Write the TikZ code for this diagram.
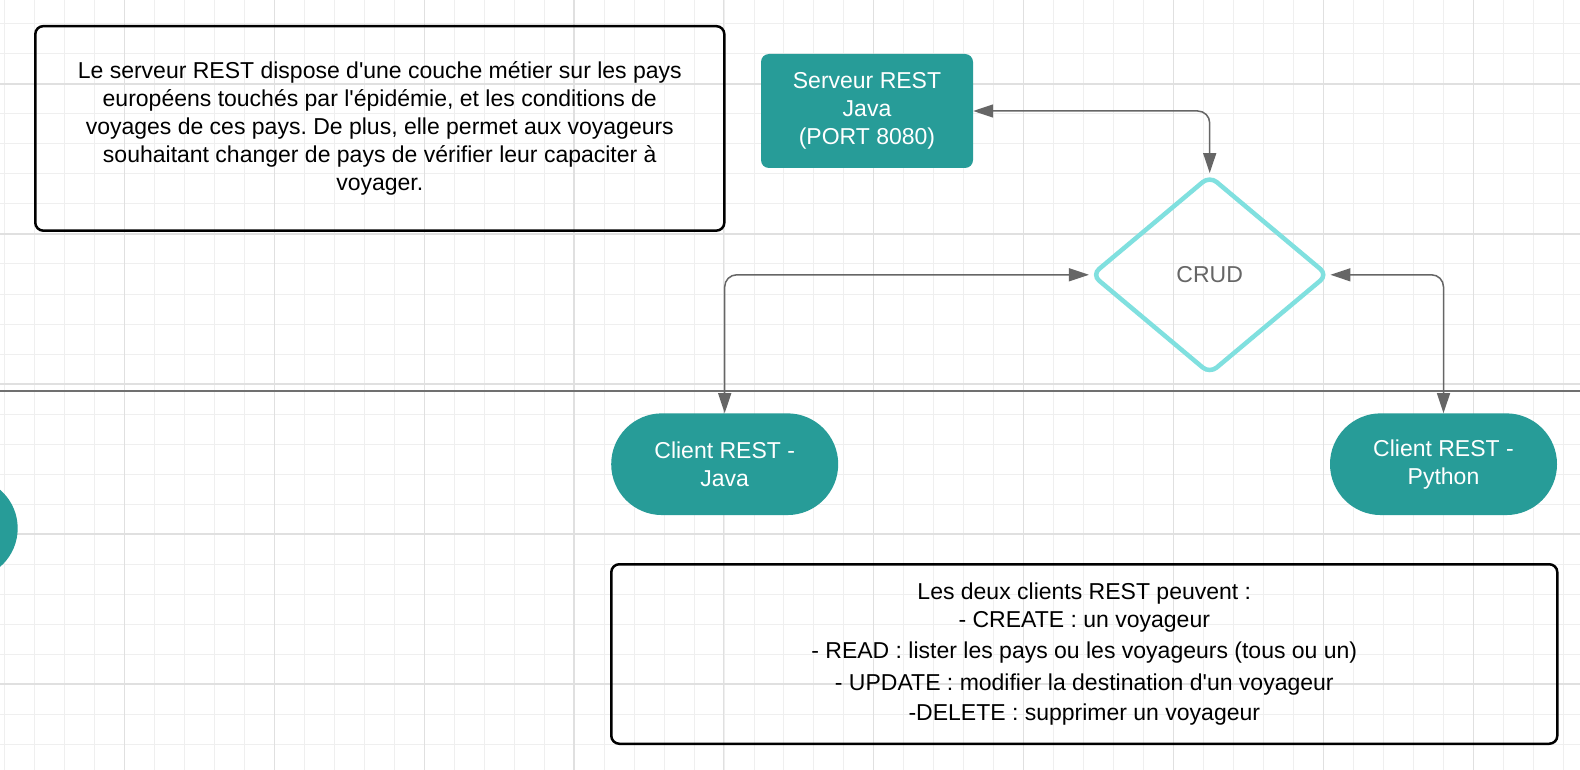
\documentclass[tikz,border=0pt]{standalone}
\usepackage{fontspec}
\newfontfamily\libsans{Liberation Sans}
\usetikzlibrary{arrows.meta,shapes.geometric}
\definecolor{tealbox}{HTML}{279C98}
\definecolor{crudline}{HTML}{80E0DF}
\definecolor{conngray}{HTML}{666666}
\definecolor{gridlight}{HTML}{EFEFEF}
\definecolor{griddark}{HTML}{E0E0E0}
\definecolor{sepgray}{HTML}{707070}
\tikzset{
  gridl/.style={draw=gridlight, line width=1pt},
  gridd/.style={draw=griddark, line width=1.1pt},
  txt/.style={font=\libsans\frenchspacing\fontsize{23}{28}\selectfont, align=center},
  notebox/.style={txt, draw=black, line width=2.5pt, rounded corners=8pt, inner sep=0pt, text=black},
  tealrect/.style={txt, fill=tealbox, text=white, rounded corners=8pt, inner sep=0pt,
    minimum width=212pt, minimum height=114pt},
  stadium/.style={txt, fill=tealbox, text=white, rounded corners=50.8pt, inner sep=0pt,
    minimum width=227pt, minimum height=101.7pt},
  decision/.style={txt, diamond, draw=crudline, line width=4.5pt, rounded corners=9pt,
    text=conngray, inner sep=0pt, minimum width=237pt, minimum height=199pt},
  conn/.style={draw=conngray, line width=1.5pt, rounded corners=12pt,
    {Triangle[length=20pt,width=13pt]}-{Triangle[length=20pt,width=13pt]}},
  sepline/.style={draw=sepgray, line width=1.6pt}
}
\begin{document}
\begin{tikzpicture}[x=1pt,y=-1pt]
\useasboundingbox (0,0) rectangle (1580,770);
\fill[white] (0,0) rectangle (1580,770);
% grid
\foreach \i in {0,...,52} {\draw[gridl] ({4.5+29.98*\i},0) -- ++(0,770);}
\foreach \j in {0,...,25} {\draw[gridl] (0,{24+30*\j}) -- ++(1580,0);}
\foreach \k in {0,...,9} {\draw[gridd] ({124.3+149.9*\k},0) -- ++(0,770);}
\foreach \k in {0,...,4} {\draw[gridd] (0,{84+150*\k}) -- ++(1580,0);}

% separator
\coordinate (sepL) at (0,391);
\coordinate (sepR) at (1580,391);
\draw[sepline] (sepL) -- (sepR);

% partial shape at left edge
\begin{scope}
\clip (0,0) rectangle (1580,770);
\node[stadium] (partial) at (-95.8,528.3) {};
\end{scope}

% nodes
\node[notebox, minimum width=689pt, minimum height=204.5pt] (intro) at (379.8,128.4)
  {Le serveur REST dispose d'une couche métier sur les pays\\
   européens touchés par l'épidémie, et les conditions de\\
   voyages de ces pays. De plus, elle permet aux voyageurs\\
   souhaitant changer de pays de vérifier leur capaciter à\\
   voyager.};

\node[tealrect] (srv) at (867,111) {Serveur REST\\Java\\(PORT 8080)};

\node[decision] (crud) at (1209.7,274.8) {CRUD};

\node[stadium] (cjava) at (724.7,464.2) {Client REST -\\Java};
\node[stadium] (cpy) at (1443.5,464.2) {Client REST -\\Python};

\node[notebox, minimum width=946pt, minimum height=179.5pt] (ops) at (1084.3,654)
  {Les deux clients REST peuvent :\\
   - CREATE : un voyageur\\[3.4pt]
   - READ : lister les pays ou les voyageurs (tous ou un)\\[3.4pt]
   - UPDATE : modifier la destination d'un voyageur\\[2pt]
   -DELETE : supprimer un voyageur};

% connectors
\draw[conn] (srv.east) -| (crud.north);
\draw[conn] (cjava.north) |- (crud.west);
\draw[conn] (cpy.north) |- (crud.east);
\end{tikzpicture}
\end{document}
